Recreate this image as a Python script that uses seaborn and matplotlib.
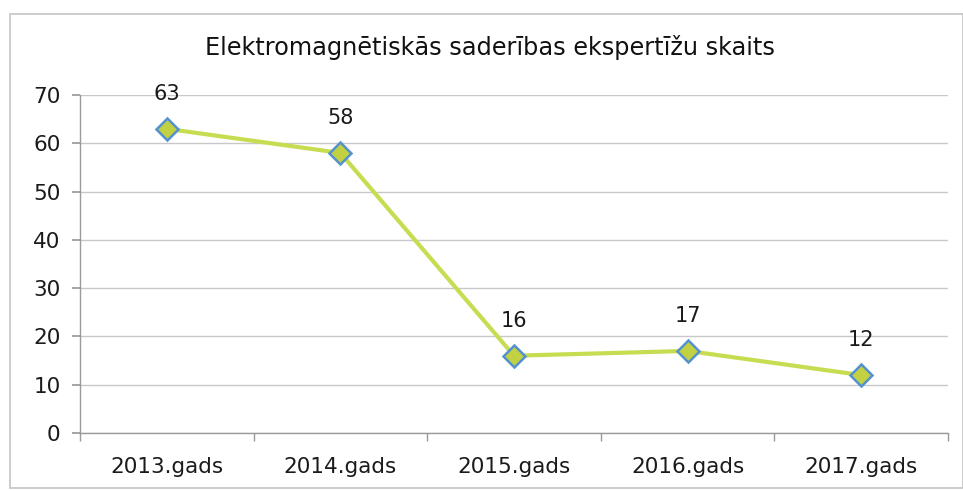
import matplotlib
matplotlib.use("Agg")
import matplotlib.pyplot as plt
import seaborn as sns
import pandas as pd
import numpy as np
from matplotlib.patches import Rectangle

categories = ["2013.gads", "2014.gads", "2015.gads", "2016.gads", "2017.gads"]
values = [63, 58, 16, 17, 12]
yticks = [0, 10, 20, 30, 40, 50, 60, 70]
title = "Elektromagnētiskās saderības ekspertīžu skaits"

sns.set_theme(style="white")
plt.rcParams['font.family'] = ['DejaVu Sans']

df = pd.DataFrame({"cat": categories, "val": values})

fig = plt.figure(figsize=(9.63, 4.91), dpi=100)
ax = fig.add_axes([80/963, 1-433/491, (948-80)/963, (433-95)/491])

sns.lineplot(data=df, x="cat", y="val", ax=ax, color="#c8dc52", linewidth=3.0,
             marker="D", markersize=11, markerfacecolor="#c2d142",
             markeredgecolor="#5592cf", markeredgewidth=1.8, sort=False)

ax.set_xlim(-0.5, len(categories) - 0.5)
ax.set_ylim(0, 70)
ax.set_yticks(yticks)
ax.set_xticks(range(len(categories)))
ax.set_xticklabels(categories)
ax.set_xticks(np.arange(-0.5, len(categories), 1.0), minor=True)
ax.set_xlabel("")
ax.set_ylabel("")
ax.yaxis.grid(True, color="#c8c8c8", linewidth=1.0)
ax.xaxis.grid(False)
for s in ["top", "right"]:
    ax.spines[s].set_visible(False)
for s in ["left", "bottom"]:
    ax.spines[s].set_visible(True)
    ax.spines[s].set_color("#9a9a9a")
    ax.spines[s].set_linewidth(1.0)
ax.tick_params(axis="y", which="major", left=True, length=6, color="#9a9a9a",
               labelsize=15.5, labelcolor="#1a1a1a", pad=8)
ax.tick_params(axis="x", which="major", bottom=False, labelsize=15.5,
               labelcolor="#1a1a1a", pad=11)
ax.tick_params(axis="x", which="minor", bottom=True, length=6, color="#9a9a9a")

for i, v in enumerate(values):
    ax.annotate(str(v), (i, v), xytext=(0, 25), textcoords="offset points",
                ha="center", va="center", fontsize=15, color="#1a1a1a")

fig.text(490/963, 1-48/491, title, ha="center", va="center", fontsize=17.3,
         color="#111111")

fig.patches.append(Rectangle((10/963, 1-488/491), 1 - 10/963, (488-14)/491,
                             transform=fig.transFigure, fill=False,
                             edgecolor="#c4c4c4", linewidth=1.2))

fig.savefig("out.png", dpi=100)
